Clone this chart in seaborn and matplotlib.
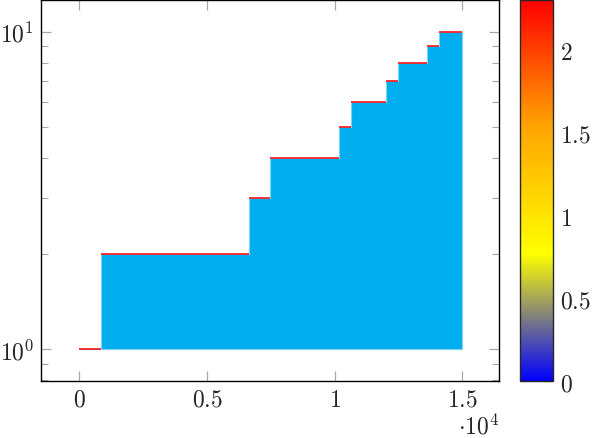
import numpy as np
import seaborn as sns
import matplotlib.pyplot as plt
from matplotlib.colors import LinearSegmentedColormap
from matplotlib.ticker import FixedLocator, NullFormatter, LogLocator

sns.set_style("white")
plt.rcParams['mathtext.fontset'] = 'cm'
plt.rcParams['font.family'] = ['DejaVu Serif']

# step edges (x) and the level of each step (y)
x_left = [0, 850, 6650, 7475, 10150, 10650, 12000, 12480, 13600, 14090]
x_right = [850, 6650, 7475, 10150, 10650, 12000, 12480, 13600, 14090, 15000]
levels = [1, 2, 3, 4, 5, 6, 7, 8, 9, 10]

x_ticks = [0, 5000, 10000, 15000]
x_ticklabels = ['$0$', '$0.5$', '$1$', '$1.5$']
cb_ticks = [0, 0.5, 1, 1.5, 2]
cb_ticklabels = ['$0$', '$0.5$', '$1$', '$1.5$', '$2$']

fill_color = '#00AEEF'
tick_color = '#a8a8a8'
fs = 17

hot = LinearSegmentedColormap.from_list('pgf_hot', ['blue', 'yellow', 'orange', 'red'])

fig = plt.figure(figsize=(5.93, 4.39), dpi=100)
ax = fig.add_axes([0.0691, 0.1298, 0.7724, 0.8679])
cax = fig.add_axes([0.8769, 0.1298, 0.0556, 0.8679])

# filled step area from y=1 up to each level
xs = np.array(x_left + [x_right[-1]], dtype=float)
ys = np.array(levels + [levels[-1]], dtype=float)
ax.fill_between(xs, 1, ys, step='post', color=fill_color, linewidth=0.8,
                edgecolor='#7fd3f5', zorder=2)
ax.hlines(levels, x_left, x_right, colors='red', linewidth=1.1, zorder=3)

ax.set_yscale('log')
ax.set_xlim(-1500, 16430)
ax.set_ylim(10 ** -0.1, 10 ** 1.1)

ax.xaxis.set_major_locator(FixedLocator(x_ticks))
ax.set_xticklabels(x_ticklabels)
ax.yaxis.set_major_locator(FixedLocator([1, 10]))
ax.set_yticklabels(['$10^{0}$', '$10^{1}$'])
ax.yaxis.set_minor_locator(LogLocator(base=10, subs=np.arange(2, 10)))
ax.yaxis.set_minor_formatter(NullFormatter())

ax.tick_params(which='major', direction='in', length=7, width=0.9, color=tick_color,
               top=True, right=True, bottom=True, left=True, labelsize=fs, pad=5)
ax.tick_params(which='minor', direction='in', length=4.8, width=0.8, color=tick_color,
               left=True, right=True)
for s in ax.spines.values():
    s.set_color('black')
    s.set_linewidth(1.0)
ax.text(1.0, -0.085, r'$\cdot 10^{4}$', transform=ax.transAxes, ha='right', va='top',
        fontsize=fs)

# colorbar
norm = plt.Normalize(0, np.log(10))
sm = plt.cm.ScalarMappable(cmap=hot, norm=norm)
cb = fig.colorbar(sm, cax=cax)
cb.set_ticks(cb_ticks)
cb.set_ticklabels(cb_ticklabels)
cb.outline.set_linewidth(1.0)
cax.tick_params(direction='in', length=7, width=0.9, color=tick_color, labelsize=fs,
                left=True, right=True, pad=5)

fig.savefig('out.png', dpi=100)
